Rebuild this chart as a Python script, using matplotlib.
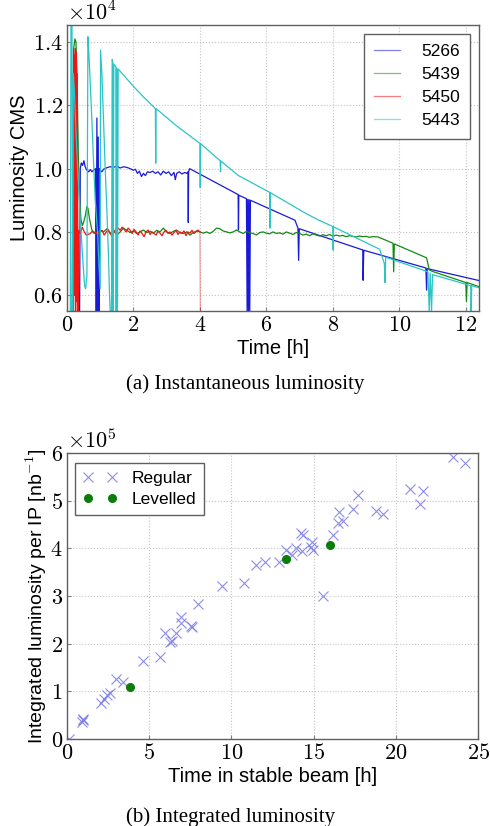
import matplotlib
matplotlib.use("Agg")
import matplotlib.pyplot as plt
from matplotlib.ticker import FuncFormatter, MultipleLocator

plt.rcParams["mathtext.fontset"] = "cm"
plt.rcParams["font.family"] = ["Liberation Sans", "DejaVu Sans"]

# ---- (a) instantaneous luminosity, units of 1e4 ----
fills = ["5266", "5439", "5450", "5443"]

t_5266 = [0.38, 0.40, 0.43, 0.47, 0.51, 0.55, 0.60, 0.65, 0.70, 0.75, 0.80, 0.86,
          0.88, 0.90, 0.92, 0.94, 0.96, 0.97,
          1.00, 1.05, 1.10, 1.20, 1.30, 1.40, 1.50, 1.60, 1.70, 1.80, 1.90, 2.00,
          2.06, 2.12, 2.18, 2.24, 2.30, 2.36, 2.42, 2.50, 2.58, 2.66, 2.74, 2.82,
          2.90, 2.98, 3.06, 3.14, 3.22, 3.26, 3.30, 3.38, 3.46, 3.54, 3.60, 3.64,
          3.65, 3.66, 3.69, 5.15, 5.16, 5.17, 5.40, 5.42, 5.44, 5.46, 5.48, 5.50,
          5.52, 6.86, 6.95, 6.97, 6.99, 8.90, 8.91, 8.93, 10.80, 10.82, 10.84, 12.45]
lumi_5266 = [0.55, 1.000, 1.018, 1.010, 1.025, 1.005, 0.995, 0.990, 0.997, 0.990, 0.995, 1.000,
             0.55, 1.16, 0.55, 1.10, 0.55, 1.00,
             0.995, 0.990, 0.998, 1.003, 1.006, 1.004, 1.008, 1.002, 1.006, 1.004, 1.000, 0.995,
             0.998, 0.985, 0.992, 0.975, 0.985, 0.978, 0.990, 0.988, 0.992, 0.985, 0.990, 0.980,
             0.992, 0.985, 0.990, 0.978, 0.988, 0.965, 0.985, 0.990, 0.983, 0.988, 0.985, 0.990,
             0.830, 0.990, 1.000, 0.918, 0.806, 0.916, 0.905, 0.55, 0.903, 0.55, 0.902, 0.55,
             0.900, 0.837, 0.812, 0.71, 0.810, 0.743, 0.647, 0.742, 0.686, 0.616, 0.684, 0.645]

t_5439 = [0.15, 0.20, 0.24, 0.27, 0.30, 0.34, 0.38, 0.42, 0.46, 0.50, 0.55, 0.60, 0.63,
          0.68, 0.75,
          0.80, 0.90, 1.00, 1.10, 1.20, 1.30, 1.40, 1.50, 1.60, 1.70, 1.80, 1.90, 2.00,
          2.10, 2.20, 2.30, 2.40, 2.50, 2.60, 2.70, 2.80, 2.90, 3.00, 3.10, 3.20, 3.30,
          3.40, 3.50, 3.60, 3.70, 3.80, 3.90, 4.00, 4.10, 4.20, 4.30, 4.40, 4.50, 4.60,
          4.70, 4.80, 4.90, 5.00, 5.10, 5.20, 5.30, 5.40, 5.50, 5.60, 5.70, 5.80, 5.90,
          6.00, 6.10, 6.20, 6.30, 6.40, 6.50, 6.60, 6.70, 6.80, 6.90, 7.00, 7.10, 7.20,
          7.30, 7.40, 7.50, 7.60, 7.70, 7.80, 7.90, 8.00, 8.10, 8.20, 8.30, 8.40, 8.50,
          8.60, 8.70, 8.80, 8.90, 9.00, 9.10, 9.20, 9.36, 9.50, 9.81, 9.83, 9.85,
          10.82, 10.86, 10.90, 11.00, 12.00, 12.02, 12.04, 12.45]
lumi_5439 = [0.55, 1.38, 1.41, 1.40, 1.30, 1.05, 0.90, 0.84, 0.82, 0.83, 0.85, 0.88, 0.875,
             0.84, 0.806,
             0.800, 0.795, 0.805, 0.800, 0.810, 0.795, 0.805, 0.790, 0.800, 0.812, 0.805, 0.798, 0.803,
             0.795, 0.800, 0.806, 0.798, 0.802, 0.796, 0.805, 0.800, 0.812, 0.800, 0.795, 0.802, 0.806,
             0.797, 0.795, 0.800, 0.790, 0.798, 0.803, 0.800, 0.796, 0.800, 0.795, 0.802, 0.812, 0.810,
             0.803, 0.800, 0.797, 0.800, 0.806, 0.800, 0.795, 0.802, 0.797, 0.795, 0.790, 0.798, 0.800,
             0.796, 0.794, 0.800, 0.795, 0.797, 0.793, 0.800, 0.796, 0.792, 0.798, 0.795, 0.790, 0.793,
             0.788, 0.794, 0.790, 0.787, 0.791, 0.788, 0.792, 0.786, 0.790, 0.787, 0.789, 0.785, 0.788,
             0.786, 0.784, 0.787, 0.785, 0.786, 0.783, 0.785, 0.784, 0.778, 0.764, 0.674, 0.762,
             0.718, 0.700, 0.680, 0.675, 0.640, 0.580, 0.640, 0.625]

t_5450 = [0.20, 0.22, 0.23, 0.25, 0.26, 0.28, 0.29, 0.31, 0.33,
          0.34, 0.40, 0.46, 0.52, 0.58, 0.64, 0.70, 0.76, 0.82, 0.88, 0.94, 1.00, 1.06,
          1.12, 1.18, 1.24, 1.30, 1.36, 1.42, 1.48, 1.54, 1.60, 1.66, 1.72, 1.78, 1.84,
          1.90, 1.96, 2.02, 2.08, 2.14, 2.20, 2.26, 2.32, 2.38, 2.44, 2.50, 2.56, 2.62,
          2.68, 2.74, 2.80, 2.86, 2.92, 2.98, 3.04, 3.10, 3.16, 3.22, 3.28, 3.34, 3.40,
          3.46, 3.52, 3.58, 3.64, 3.70, 3.76, 3.82, 3.88, 3.94, 4.00]
lumi_5450 = [0.55, 1.36, 0.60, 1.38, 0.55, 1.37, 0.58, 1.30, 0.55,
             0.805, 0.795, 0.815, 0.800, 0.790, 0.792, 0.795, 0.802, 0.795, 0.798, 0.793, 0.800, 0.805,
             0.790, 0.800, 0.808, 0.795, 0.785, 0.800, 0.810, 0.812, 0.805, 0.815, 0.808, 0.800, 0.812,
             0.805, 0.795, 0.808, 0.800, 0.790, 0.803, 0.795, 0.785, 0.800, 0.806, 0.792, 0.800, 0.795,
             0.790, 0.802, 0.796, 0.788, 0.800, 0.805, 0.795, 0.800, 0.790, 0.798, 0.805, 0.792, 0.800,
             0.795, 0.803, 0.788, 0.800, 0.796, 0.805, 0.795, 0.800, 0.806, 0.800]
t_5450_dump = [4.00, 4.01]
lumi_5450_dump = [0.800, 0.55]

t_5443 = [0.10, 0.12, 0.15, 0.17, 0.19, 0.22, 0.27, 0.33, 0.40, 0.47, 0.53, 0.56, 0.60,
          0.63, 0.66, 0.70, 0.75, 0.80, 0.85, 0.92, 0.96, 1.00,
          1.01, 1.05, 1.10, 1.15, 1.20, 1.25, 1.28, 1.30, 1.34,
          1.36, 1.38, 1.39, 1.41, 1.47, 1.48, 1.50, 1.52, 1.54,
          2.00, 2.30, 2.66, 2.67, 2.68, 3.30, 4.00, 4.01, 4.02, 4.61, 4.62, 4.63,
          5.16, 6.10, 6.11, 6.12, 7.16, 7.56, 8.00, 8.01, 8.02, 9.41, 9.55, 9.57, 9.59,
          10.86, 10.90, 10.93, 10.97, 11.00, 12.15, 12.16, 12.18, 12.45]
lumi_5443 = [0.55, 1.46, 1.46, 0.55, 1.30, 1.25, 1.12, 0.98, 0.84, 0.72, 0.63, 0.62, 0.66,
             1.417, 1.36, 1.27, 1.15, 1.02, 0.90, 0.80, 0.70, 0.62,
             1.375, 1.30, 1.15, 1.00, 0.87, 0.72, 0.60, 0.55, 0.55,
             1.345, 1.335, 0.55, 1.330, 1.322, 0.55, 1.318, 0.55, 1.315,
             1.260, 1.227, 1.190, 1.017, 1.190, 1.135, 1.080, 0.940, 1.079, 1.025, 0.990, 1.024,
             0.978, 0.925, 0.812, 0.924, 0.860, 0.838, 0.817, 0.742, 0.816, 0.745, 0.700, 0.640, 0.720,
             0.674, 0.55, 0.670, 0.55, 0.665, 0.630, 0.55, 0.630, 0.622]

# ---- (b) integrated luminosity per IP, units of 1e5 ----
regular_time = [0.10, 0.89, 0.95, 0.99, 2.09, 2.23, 2.45, 2.60, 2.96, 3.40, 4.65, 5.65,
                5.94, 6.26, 6.36, 6.62, 6.92, 6.94, 7.53, 7.63, 7.99, 9.40, 10.78, 11.51,
                12.05, 12.92, 13.32, 13.66, 13.90, 14.23, 14.33, 14.27, 14.81, 14.91, 14.99,
                15.57, 16.18, 16.48, 16.52, 16.78, 17.40, 17.71, 18.79, 19.20, 20.86, 21.47,
                21.65, 23.48, 24.19]
regular_lumi = [0.01, 0.36, 0.40, 0.43, 0.75, 0.83, 0.92, 0.97, 1.25, 1.19, 1.64, 1.71,
                2.23, 2.04, 2.06, 2.23, 2.55, 2.43, 2.37, 2.34, 2.83, 3.21, 3.27, 3.64,
                3.72, 3.71, 3.97, 3.86, 4.00, 4.33, 4.27, 3.94, 4.03, 4.14, 3.97,
                2.99, 4.28, 4.54, 4.76, 4.57, 4.83, 5.12, 4.79, 4.72, 5.24, 4.94,
                5.21, 5.91, 5.80]
levelled_time = [3.82, 13.32, 15.98]
levelled_lumi = [1.10, 3.77, 4.06]

colors = {"5266": "#1a1ad6", "5439": "#148a14", "5450": "#f01414", "5443": "#2cc4c4"}

fig = plt.figure(figsize=(4.9, 8.26), dpi=100)
tick_fmt = FuncFormatter(lambda v, _: f"${v:g}$")


def style_axes(ax):
    ax.grid(True, linestyle=":", color="#c4c4c4", linewidth=0.8)
    ax.set_axisbelow(True)
    for sp in ax.spines.values():
        sp.set_color("#606060")
        sp.set_linewidth(1.0)
    ax.tick_params(direction="in", length=3, color="#808080", labelsize=16, pad=3)
    ax.xaxis.set_major_formatter(tick_fmt)


# ---- panel (a) ----
ax1 = fig.add_axes([0.1367, 0.6235, 0.841, 0.3462])
ax1.plot(t_5266, lumi_5266, color=colors["5266"], lw=0.9, label="5266")
ax1.plot(t_5439, lumi_5439, color=colors["5439"], lw=0.9, label="5439")
ax1.plot(t_5450, lumi_5450, color=colors["5450"], lw=0.9, label="5450")
ax1.plot(t_5450_dump, lumi_5450_dump, color=colors["5450"], lw=0.7, alpha=0.5)
ax1.plot(t_5443, lumi_5443, color=colors["5443"], lw=0.9, label="5443")
ax1.set_xlim(0, 12.4)
ax1.set_ylim(0.55, 1.454)
ax1.xaxis.set_major_locator(MultipleLocator(2))
ax1.yaxis.set_major_locator(MultipleLocator(0.2))
style_axes(ax1)
ax1.yaxis.set_major_formatter(FuncFormatter(lambda v, _: f"${v:.1f}$"))
ax1.set_xlabel("Time [h]", fontsize=14.5, labelpad=2)
ax1.set_ylabel("Luminosity CMS", fontsize=14.5, labelpad=3)
ax1.text(0.0, 1.0, r"$\times10^{4}$", transform=ax1.transAxes, fontsize=16,
         ha="left", va="bottom")
leg1 = ax1.legend(loc="upper right", bbox_to_anchor=(0.978, 0.969), fontsize=12.5,
                  fancybox=False, edgecolor="#606060", framealpha=1, borderpad=0.6,
                  borderaxespad=0, handlelength=1.5, handletextpad=1.2, labelspacing=0.45)
leg1.get_frame().set_linewidth(1.0)
for h in leg1.get_lines():
    h.set_alpha(0.55)

# ---- panel (b) ----
ax2 = fig.add_axes([0.1367, 0.1053, 0.839, 0.3463])
ax2.plot(regular_time, regular_lumi, linestyle="none", marker="x", markersize=6.5,
         markeredgewidth=0.8, color="#7a7ae4", alpha=0.85, label="Regular")
ax2.plot(levelled_time, levelled_lumi, linestyle="none", marker="o", markersize=5.5,
         color="#0a7d0a", label="Levelled")
ax2.set_xlim(0, 25)
ax2.set_ylim(0, 6)
ax2.xaxis.set_major_locator(MultipleLocator(5))
ax2.yaxis.set_major_locator(MultipleLocator(1))
style_axes(ax2)
ax2.yaxis.set_major_formatter(tick_fmt)
ax2.set_xlabel("Time in stable beam [h]", fontsize=14.5, labelpad=2)
ax2.set_ylabel(r"Integrated luminosity per IP [nb$^{-1}$]", fontsize=14, labelpad=1)
ax2.text(0.0, 1.0, r"$\times10^{5}$", transform=ax2.transAxes, fontsize=16,
         ha="left", va="bottom")
leg2 = ax2.legend(loc="upper left", bbox_to_anchor=(0.019, 0.965), fontsize=12.5,
                  numpoints=2, fancybox=False, edgecolor="#606060", framealpha=1,
                  borderpad=0.45, borderaxespad=0, handlelength=2.0, handletextpad=0.8,
                  labelspacing=0.35)
leg2.get_frame().set_linewidth(1.0)

# ---- captions ----
fig.text(0.5, 1 - 384 / 826, "(a) Instantaneous luminosity", ha="center", va="center",
         fontsize=15, family=["Liberation Serif", "DejaVu Serif"])
fig.text(0.47, 1 - 817 / 826, "(b) Integrated luminosity", ha="center", va="center",
         fontsize=15, family=["Liberation Serif", "DejaVu Serif"])

fig.savefig("out.png", dpi=100)
